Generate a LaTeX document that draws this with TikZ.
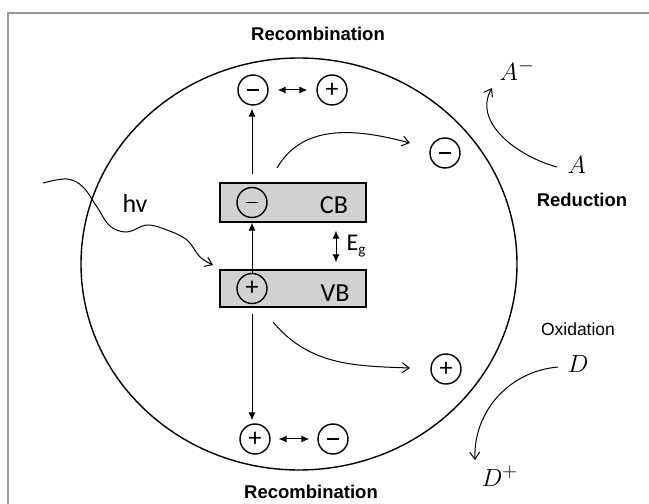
\documentclass[tikz,border=0pt]{standalone}
\usepackage{fontspec}
\setmainfont{Liberation Sans}
\newfontfamily\calib{Carlito}
\usetikzlibrary{arrows.meta}
\newcommand{\mns}{\rule{12pt}{1.4pt}}

\begin{document}
\begin{tikzpicture}[x=1pt,y=1pt,
  chg/.style={circle,draw,line width=1.4pt,minimum size=30pt,inner sep=0pt,font=\fontsize{26}{26}\selectfont\calib},
  band/.style={draw,line width=1.3pt,fill=black!18,minimum width=146pt,inner sep=0pt},
  bold/.style={font=\fontsize{18.5}{20}\selectfont\bfseries},
  cal/.style={font=\fontsize{26}{28}\selectfont\calib},
  mth/.style={font=\fontsize{28}{30}\selectfont,anchor=west},
  barb/.style={line width=1pt,-{Straight Barb[length=7pt,width=10pt]}},
  fat/.style={line width=1pt,-{Latex[length=8pt,width=7pt]}},
  fatt/.style={line width=1pt,{Latex[length=8pt,width=7pt]}-{Latex[length=8pt,width=7pt]}}]

\useasboundingbox (0,0) rectangle (649,504);
\draw[black!40,line width=1.5pt] (8,0) -- (8,491) -- (649,491);
\draw[line width=1.4pt] (299,240) ellipse [x radius=218,y radius=206];

\node[band,minimum height=39pt] (cb) at (293,301.5) {};
\node[band,minimum height=37pt] (vb) at (293,215.5) {};
\node[chg] (em0) at (252,301.5) {\mns};
\node[chg] (hp0) at (252,215.5) {+};
\node[cal] (cbt) at (334,299) {CB};
\node[cal] (vbt) at (335,211) {VB};

\node[chg] (em1) at (253,414) {\mns};
\node[chg] (hp1) at (332,414) {+};
\node[chg] (hp2) at (255,65) {+};
\node[chg] (em2) at (333,65) {\mns};
\node[chg] (em3) at (445,351) {\mns};
\node[chg] (hp3) at (446,135) {+};

\node[bold] (rectop) at (318,470) {Recombination};
\node[bold] (recbot) at (311,12) {Recombination};
\node[bold] (red) at (582,304) {Reduction};
\node[font=\fontsize{17.5}{19}\selectfont] (ox) at (578,175) {Oxidation};
\node[cal] (hv) at (135,301) {hv};
\node[cal,font=\fontsize{24}{24}\selectfont\calib,anchor=west] (eg) at (343,258) {E\raisebox{-0.35ex}{\fontsize{15}{15}\selectfont g}};

\node[mth] (am) at (496,434) {$A^-$};
\node[mth] (a) at (564,339) {$A$};
\node[mth] (d) at (564,140) {$D$};
\node[mth] (dp) at (478,28) {$D^+$};

\coordinate (egx) at (336,258);
\coordinate (e1) at (277,336);
\coordinate (e2) at (410,361);
\coordinate (h1) at (273,182);
\coordinate (h2) at (410,136);
\coordinate (a1) at (557,337);
\coordinate (a2) at (492,416);
\coordinate (d1) at (558,137);
\coordinate (d2) at (475,44);

\draw[fat,shorten <=8pt,shorten >=3pt] (em0 |- cb.north) -- (em0 |- em1.south);
\draw[fat] (hp0) -- (hp0 |- cb.south);
\draw[fat,shorten <=6pt,shorten >=3pt] (hp0 |- vb.south) -- (hp0 |- hp2.north);
\draw[fatt,shorten <=9pt,shorten >=9pt] (em1) -- (hp1);
\draw[fatt,shorten <=8pt,shorten >=8pt] (hp2) -- (em2);
\draw[fatt,shorten <=8pt,shorten >=7pt] (egx |- cb.south) -- (egx |- vb.north);

\draw[barb] plot[smooth,tension=0.6] coordinates {(43,321) (67,325) (83,317) (97,297) (110,278) (127,272) (147,279) (167,274) (187,264) (200,247) (213,239)};
\draw[barb] (e1) to[out=60,in=165] (e2);
\draw[barb] (h1) to[out=-50,in=178] (h2);
\draw[barb] (a1) to[out=165,in=240] (a2);
\draw[barb] (d1) to[out=185,in=92] (d2);
\end{tikzpicture}
\end{document}
